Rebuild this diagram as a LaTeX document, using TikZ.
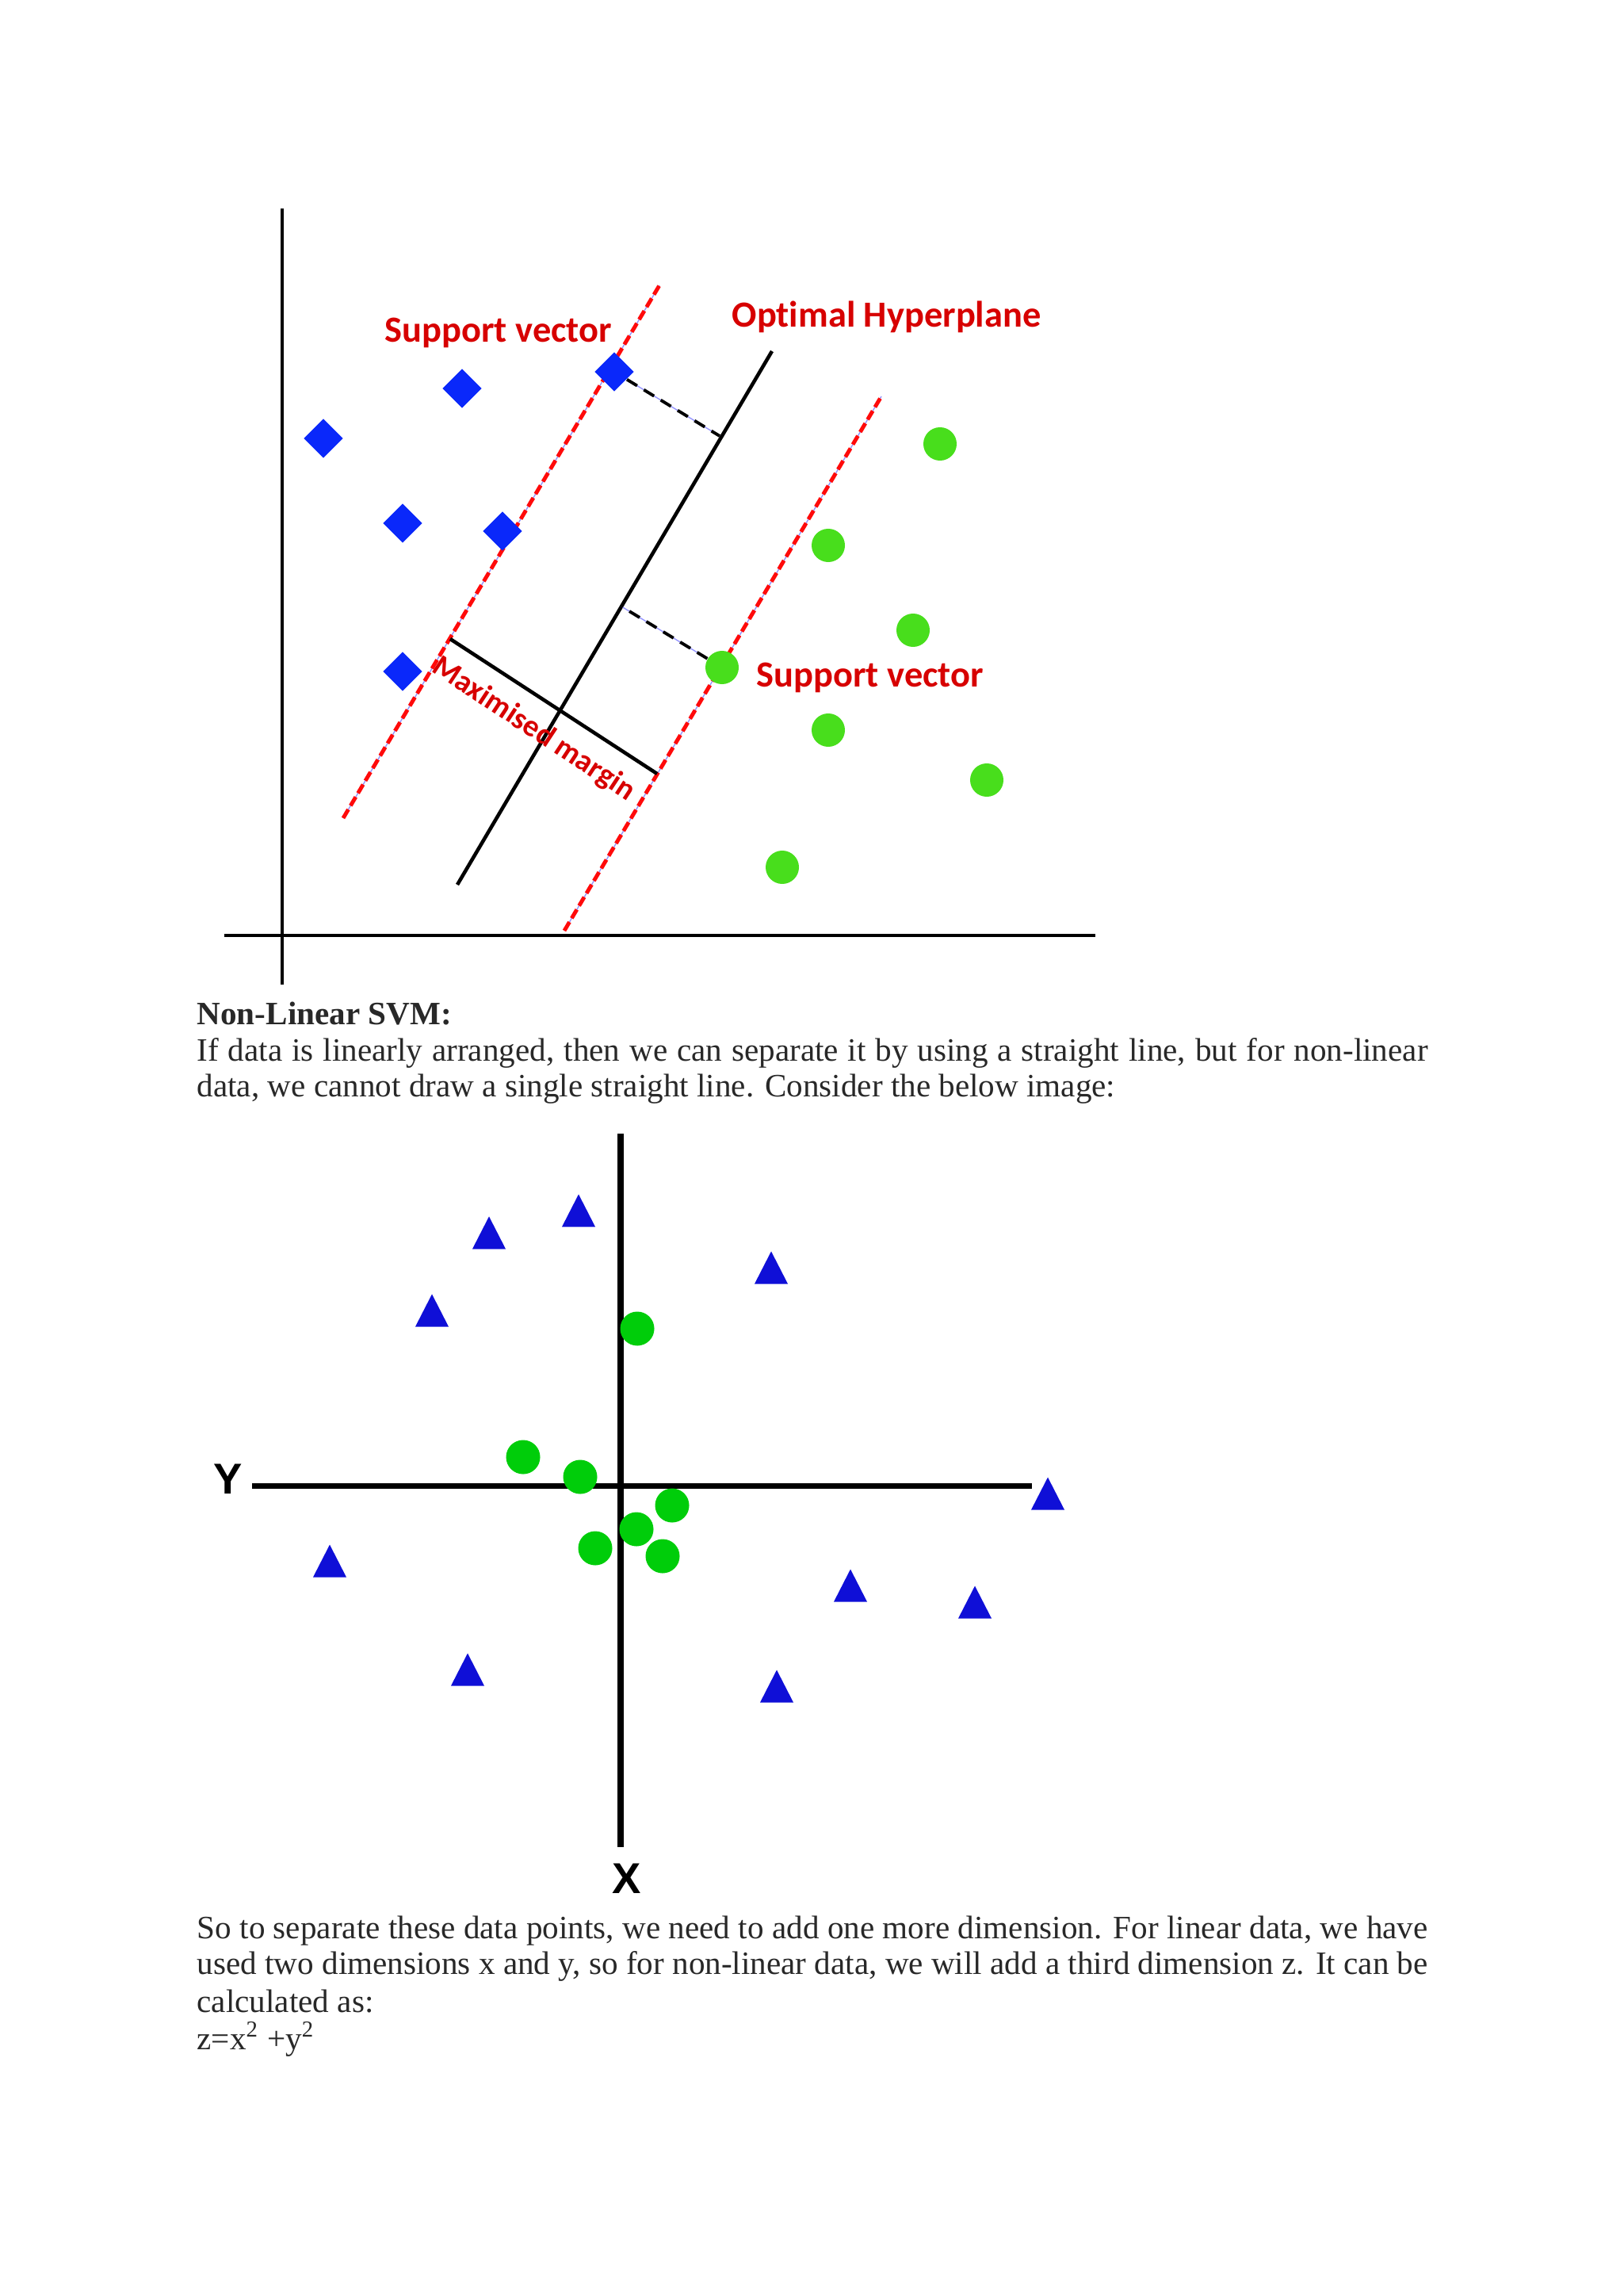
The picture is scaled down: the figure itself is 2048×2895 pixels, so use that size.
\documentclass[tikz,border=0pt]{standalone}
\usepackage{fontspec}
\setmainfont{Liberation Serif}
\newfontfamily\lblfont[Ligatures=NoCommon]{Carlito}
\newfontfamily\axisfont{Liberation Sans}
\usetikzlibrary{shapes.geometric}
\definecolor{svmred}{RGB}{215,0,0}
\definecolor{dashred}{RGB}{255,10,10}
\definecolor{guideblue}{RGB}{150,150,255}
\definecolor{diamblue}{RGB}{10,40,250}
\definecolor{triblue}{RGB}{15,15,215}
\definecolor{lightgreen}{RGB}{72,222,28}
\definecolor{dotgreen}{RGB}{0,205,10}
\definecolor{bodytext}{RGB}{40,40,40}
\begin{document}
\begin{tikzpicture}[x=0.01cm, y=-0.01cm,
    diam/.style={diamond, fill=diamblue, inner sep=0pt, minimum size=0.5cm},
    gdot/.style={circle, fill=lightgreen, inner sep=0pt, minimum size=0.42cm},
    cdot/.style={circle, fill=dotgreen, inner sep=0pt, minimum size=0.43cm},
    tri/.style={fill=triblue},
    axis/.style={line width=1.4pt},
    bigaxis/.style={line width=2pt},
    hyper/.style={line width=1.3pt},
    margin/.style={preaction={draw=guideblue, line width=0.4pt, solid},
      draw=dashred, line width=1.4pt, dash pattern=on 3.6pt off 1.6pt},
    perp/.style={preaction={draw=guideblue, line width=0.4pt, solid},
      line width=1.1pt, dash pattern=on 4.3pt off 2.8pt},
    lbl/.style={font=\lblfont\bfseries\fontsize{13.2}{15}\selectfont, text=svmred, inner sep=0pt},
    axlbl/.style={font=\axisfont\bfseries\fontsize{15.5}{18}\selectfont, inner sep=0pt},
    body/.style={font=\fontsize{11.7}{13.1}\selectfont, text=bodytext, inner sep=0pt, anchor=base west}
]
  \useasboundingbox (0,0) rectangle (2048,2895);

  % linear svm
  \coordinate (yTop) at (356,263);
  \coordinate (yBot) at (356,1242);
  \coordinate (xLeft) at (283,1180);
  \coordinate (xRight) at (1382,1180);
  \draw[axis] (yTop) -- (yBot);
  \draw[axis] (xLeft) -- (xRight);

  \coordinate (mL1) at (433,1032);
  \coordinate (mL2) at (832,360);
  \coordinate (mR1) at (712,1174);
  \coordinate (mR2) at (1112,500);
  \draw[margin] (mL1) -- (mL2);
  \draw[margin] (mR1) -- (mR2);

  \node[diam] (d1)  at (408,553) {};
  \node[diam] (d2)  at (583,490) {};
  \node[diam] (sv1) at (775,469) {};
  \node[diam] (d4)  at (508,660) {};
  \node[diam] (d5)  at (634,670) {};
  \node[diam] (d6)  at (508,847) {};

  \node[gdot] (g1)  at (1186,560) {};
  \node[gdot] (g2)  at (1045,688) {};
  \node[gdot] (g3)  at (1152,795) {};
  \node[gdot] (sv2) at (911,842) {};
  \node[gdot] (g5)  at (1045,921) {};
  \node[gdot] (g6)  at (1245,984) {};
  \node[gdot] (g7)  at (987,1094) {};

  \coordinate (h1) at (577,1116);
  \coordinate (h2) at (974,443);
  \coordinate (w1) at (568,806);
  \coordinate (w2) at (829,976);
  \coordinate (f1) at (908,550);
  \coordinate (f2) at (784,765);
  \draw[hyper] (h1) -- (h2);
  \draw[hyper] (w1) -- (w2);
  \draw[perp] (sv1) -- (f1);
  \draw[perp] (sv2) -- (f2);

  \node[lbl, anchor=base west] (svTop) at (485,432) {Support vector};
  \node[lbl, anchor=base west] (hypLbl) at (923,413) {Optimal Hyperplane};
  \node[lbl, anchor=base west] (svRight) at (954,867) {Support vector};
  \node[lbl, font=\lblfont\bfseries\fontsize{11}{13}\selectfont, rotate=-33.4] (marLbl) at (673,920) {Maximised margin};

  % text
  \node[body] (head) at (248,1292) {\bfseries Non-Linear SVM:};
  \node[body] (p1a) at (248,1338) {\makebox[15.52cm][s]{If data is linearly arranged, then we can separate it by using a straight line, but for non-linear}};
  \node[body] (p1b) at (248,1383) {data, we cannot draw a single straight line. Consider the below image:};

  % non-linear data
  \coordinate (vTop) at (783,1430);
  \coordinate (vBot) at (783,2330);
  \coordinate (hLeft) at (318,1874);
  \coordinate (hRight) at (1302,1874);
  \draw[bigaxis] (vTop) -- (vBot);
  \draw[bigaxis] (hLeft) -- (hRight);
  \node[axlbl] (yLbl) at (288,1866) {Y};
  \node[axlbl] (xLbl) at (791,2370) {X};

  \foreach \tx/\ty in {617/1555, 730/1527, 545/1653, 973/1599, 416/1969,
      1322/1884, 1073/2000, 1230/2021, 590/2106, 980/2127}
    \fill[tri] (\tx,\ty) +(0,-20.5) -- +(21,20.5) -- +(-21,20.5) -- cycle;

  \node[cdot] (c1) at (804,1676) {};
  \node[cdot] (c2) at (660,1838) {};
  \node[cdot] (c3) at (732,1863) {};
  \node[cdot] (c4) at (848,1899) {};
  \node[cdot] (c5) at (803,1929) {};
  \node[cdot] (c6) at (751,1953) {};
  \node[cdot] (c7) at (836,1963) {};

  \node[body] (p2a) at (248,2445) {\makebox[15.52cm][s]{So to separate these data points, we need to add one more dimension. For linear data, we have}};
  \node[body] (p2b) at (248,2490) {\makebox[15.52cm][s]{used two dimensions x and y, so for non-linear data, we will add a third dimension z. It can be}};
  \node[body] (p2c) at (248,2538) {calculated as:};
  \node[body] (p2d) at (248,2585) {z=x\textsuperscript{2} +y\textsuperscript{2}};
\end{tikzpicture}
\end{document}
